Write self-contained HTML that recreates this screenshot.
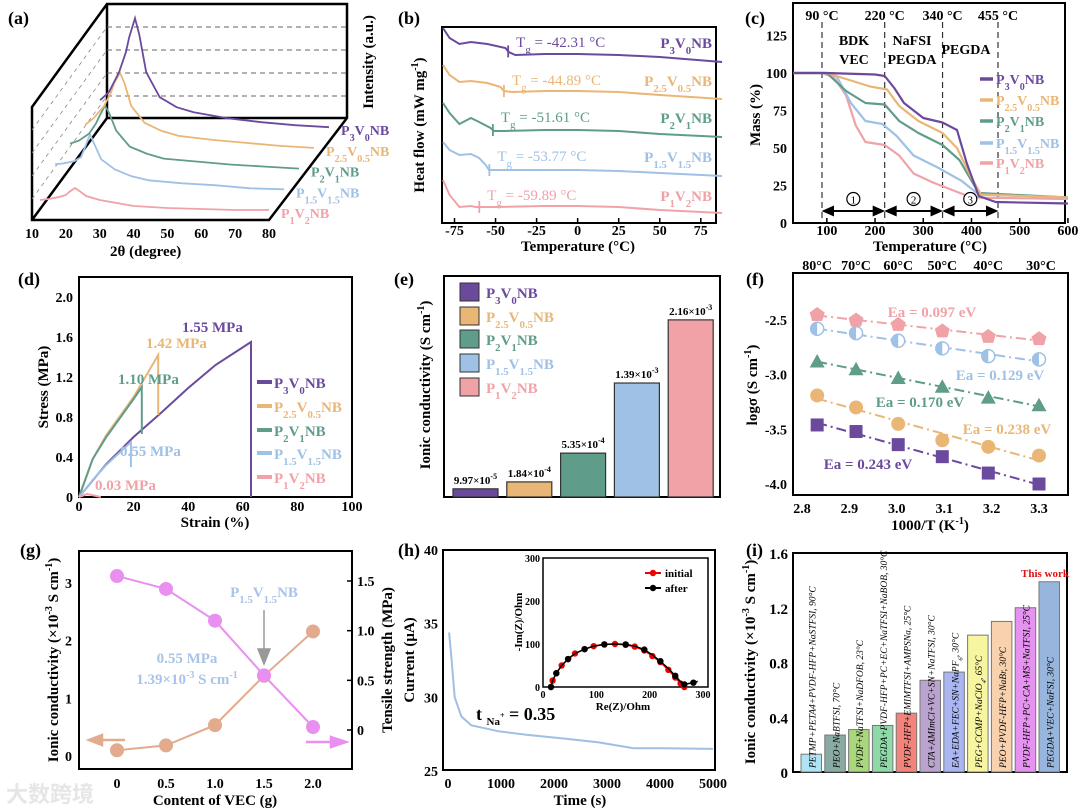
<!DOCTYPE html>
<html><head><meta charset="utf-8">
<style>
html,body{margin:0;padding:0;background:#fff;}
svg{display:block;font-family:"Liberation Serif",serif;font-weight:bold;}
.t{font-size:14px;}
.ax{fill:none;stroke:#000;stroke-width:2;}
</style></head>
<body>
<svg id="fig" width="1080" height="810" viewBox="0 0 1080 810" xmlns="http://www.w3.org/2000/svg">
<text x="8" y="24" font-size="18">(a)</text>
<text x="398" y="24" font-size="18">(b)</text>
<text x="745" y="24" font-size="18">(c)</text>
<text x="18" y="285" font-size="18">(d)</text>
<text x="394" y="285" font-size="18">(e)</text>
<text x="746" y="285" font-size="18">(f)</text>
<text x="20" y="556" font-size="18">(g)</text>
<text x="398" y="556" font-size="18">(h)</text>
<text x="746" y="556" font-size="18">(i)</text>

<text x="110" y="256" font-size="15">2θ (degree)</text>
<text transform="translate(373,62) rotate(-90)" text-anchor="middle" font-size="15">Intensity (a.u.)</text>
<text x="578" y="251" text-anchor="middle" font-size="15">Temperature (°C)</text>
<text transform="translate(424,125) rotate(-90)" text-anchor="middle" font-size="15">Heat flow (mW mg<tspan dy="-6" font-size="10">-1</tspan><tspan dy="6">)</tspan></text>
<text x="930" y="251" text-anchor="middle" font-size="15">Temperature (°C)</text>
<text transform="translate(760,115) rotate(-90)" text-anchor="middle" font-size="15">Mass (%)</text>
<text x="215" y="527" text-anchor="middle" font-size="15">Strain (%)</text>
<text transform="translate(48,387) rotate(-90)" text-anchor="middle" font-size="15">Stress (MPa)</text>
<text transform="translate(430,385) rotate(-90)" text-anchor="middle" font-size="15">Ionic conductivity (S cm<tspan dy="-6" font-size="10">-1</tspan><tspan dy="6">)</tspan></text>
<text x="930" y="530" text-anchor="middle" font-size="15">1000/T (K<tspan dy="-6" font-size="10">-1</tspan><tspan dy="6">)</tspan></text>
<text transform="translate(757,385) rotate(-90)" text-anchor="middle" font-size="15">logσ (S cm<tspan dy="-6" font-size="10">-1</tspan><tspan dy="6">)</tspan></text>
<text x="215" y="805" text-anchor="middle" font-size="15">Content of VEC (g)</text>
<text transform="translate(58,660) rotate(-90)" text-anchor="middle" font-size="15">Ionic conductivity (×10<tspan dy="-6" font-size="10">-3</tspan><tspan dy="6"> S cm</tspan><tspan dy="-6" font-size="10">-1</tspan><tspan dy="6">)</tspan></text>
<text transform="translate(392,660) rotate(-90)" text-anchor="middle" font-size="15">Tensile strength (MPa)</text>
<text x="580" y="805" text-anchor="middle" font-size="15">Time (s)</text>
<text transform="translate(414,660) rotate(-90)" text-anchor="middle" font-size="15">Current (μA)</text>
<text transform="translate(755,662) rotate(-90)" text-anchor="middle" font-size="15">Ionic conductivity (×10<tspan dy="-6" font-size="10">-3</tspan><tspan dy="6"> S cm</tspan><tspan dy="-6" font-size="10">-1</tspan><tspan dy="6">)</tspan></text>

<text x="6" y="802" font-size="22" fill="#e6e6e6" font-family="'Liberation Sans','Noto Sans CJK SC',sans-serif">大数跨境</text>
</svg>
<script>
const NS='http://www.w3.org/2000/svg';
const svg=document.getElementById('fig');
function mk(tag,attrs,parent){const e=document.createElementNS(NS,tag);for(const k in attrs)e.setAttribute(k,attrs[k]);(parent||svg).appendChild(e);return e;}
function lin(d0,d1,r0,r1){return v=>r0+(v-d0)*(r1-r0)/(d1-d0);}
function pathOf(xs,ys,fx,fy){return xs.map((x,i)=>(i?'L':'M')+fx(x).toFixed(1)+','+fy(ys[i]).toFixed(1)).join('');}
function sublabel(s){return s.replace(/_([0-9.]+)/g,'<tspan baseline-shift="sub" font-size="0.72em">$1</tspan>');}

const NAMES=['P_3V_0NB','P_2.5V_0.5NB','P_2V_1NB','P_1.5V_1.5NB','P_1V_2NB'];
const COLORS=['#6b4a9e','#eab676','#5f9c8a','#9fc1e6','#f1a2a7'];

/* ---------------- (a) XRD ---------------- */
const xrdTheta=[12.4,15,18,20,21,22.7,24,26,30,35,40,50,60,70,80];
const xrdP1V2=[10,11,13,15,18,22,19,14,10,7,4,2,1,0,0];
const xrdP15=[25,26,28,32,40,55,45,30,20,13,9,6,4,1,0];
const xrdP2V1=[25,28,35,45,52,63,55,38,22,15,10,7,4,2,0];
const xrdP25=[23,30,42,55,65,75,65,42,25,17,12,8,5,2,0];
const xrdP3=[27,35,55,75,90,109,92,55,30,20,15,9,5,2,0];
const xrdTicks=[10,20,30,40,50,60,70,80];
(function(){
  const g=mk('g',{});
  
  
  const fx=lin(10,80,32,269);
  const box=mk('path',{d:'M32,107 L107,4 L347,4 L347,118 L269,220 L32,220 Z M107,4 L107,118 L347,118 M32,220 L107,118',fill:'none',stroke:'#000','stroke-width':2.5},g);
  
  
  for(let i=1;i<=4;i++){const y=4+i*23;const l=mk('line',{x1:107,y1:y,x2:347,y2:y,stroke:'#666','stroke-dasharray':'5,4','stroke-width':1},g);
    
    
    const d=mk('line',{x1:32,y1:y+103,x2:107,y2:y,stroke:'#888','stroke-dasharray':'4,4','stroke-width':0.8},g);
    
    }
  xrdTicks.forEach(t=>{const tx=mk('text',{x:fx(t),y:238,'text-anchor':'middle',class:'t'},g);tx.textContent=t;
    
    });
  const series=[xrdP1V2,xrdP15,xrdP2V1,xrdP25,xrdP3];
  const order=[4,3,2,1,0];
  series.forEach((s,k)=>{
    const base=210-k*20.7, shift=15*k, ci=order[k];
    const p=mk('path',{d:pathOf(xrdTheta,s,t=>fx(t)+shift,v=>base-v),fill:'none',stroke:COLORS[ci],'stroke-width':1.8},g);
    
    
    const lb=mk('text',{x:fx(80)+shift+12,y:base+8,fill:COLORS[ci],'font-size':14},g);
    lb.innerHTML=sublabel(NAMES[ci]);
    
    
  });
})();

/* ---------------- (b) DSC ---------------- */
const dscTicks=[-75,-50,-25,0,25,50,75];
const dscT3=[-82,-78,-72,-65,-55,-44,-42,-38,-20,0,25,50,88];
const dscV3=[195,185,179,181,179,175,171,168,169,169,168,166,161];
const dscT25=[-82,-78,-72,-65,-55,-47,-45,-40,-20,0,25,50,88];
const dscV25=[158,148,141,142,140,136,132,131,132,132,131,128,124];
const dscT2=[-82,-78,-72,-65,-60,-53,-51,-45,-20,0,25,50,88];
const dscV2=[120,110,99,105,101,95,92,92,93,93,92,89,86];
const dscT15=[-82,-78,-72,-65,-60,-56,-54,-48,-20,0,25,50,88];
const dscV15=[81,73,68,69,65,58,53,53,53,53,52,50,47];
const dscT1=[-82,-78,-72,-65,-62,-60,-58,-50,-20,0,25,50,88];
const dscV1=[43,28,16,17,16,16,16,16,17,17,16,13,10];
const tgVals=[-42.31,-44.89,-51.61,-53.77,-59.89];
(function(){
  const g=mk('g',{});
  
  
  const fx=lin(-75,75,454.5,700.8), fy=v=>223-v;
  const fr=mk('rect',{x:442,y:27,width:274,height:196,class:'ax'},g);
  
  
  dscTicks.forEach(t=>{const l=mk('line',{x1:fx(t),y1:223,x2:fx(t),y2:218,stroke:'#000','stroke-width':1.5},g);
    
    
    const tx=mk('text',{x:fx(t),y:235,'text-anchor':'middle',class:'t'},g);tx.textContent=t;
    
    });
  const Ts=[dscT3,dscT25,dscT2,dscT15,dscT1], Vs=[dscV3,dscV25,dscV2,dscV15,dscV1];
  const tgY=[42,80,117,156,195];
  Ts.forEach((T,i)=>{
    const p=mk('path',{d:pathOf(T,Vs[i],fx,fy),fill:'none',stroke:COLORS[i],'stroke-width':2},g);
    
    
    const tg=tgVals[i];let v=Vs[i][0];
    for(let j=1;j<T.length;j++){if(T[j]>=tg){const f=(tg-T[j-1])/(T[j]-T[j-1]);v=Vs[i][j-1]+f*(Vs[i][j]-Vs[i][j-1]);break;}}
    const m=mk('line',{x1:fx(tg),y1:fy(v)-6,x2:fx(tg),y2:fy(v)+6,stroke:COLORS[i],'stroke-width':1.8},g);
    
    
    const tl=mk('text',{x:fx(tg)+8,y:tgY[i]+5,fill:COLORS[i],'font-size':15,'font-weight':'normal'},g);
    tl.innerHTML='T<tspan baseline-shift="sub" font-size="0.72em">g</tspan> = '+tg.toFixed(2)+' °C';
    
    
    const nl=mk('text',{x:712,y:tgY[i]+6,'text-anchor':'end',fill:COLORS[i],'font-size':15},g);
    nl.innerHTML=sublabel(NAMES[i]);
    
    
  });
})();

/* ---------------- (c) TGA ---------------- */
const tgaTicksX=[100,200,300,400,500,600];
const tgaTicksY=[0,25,50,75,100,125];
const tgaT3=[30,100,200,220,240,260,300,340,370,390,415,450,600];
const tgaM3=[100,100,99,98,90,80,70,67,62,40,18,14,13];
const tgaT25=[30,100,150,190,225,250,290,340,370,400,420,600];
const tgaM25=[100,100,95,91,89,78,68,60,50,30,19,17];
const tgaT2=[30,100,140,180,220,250,290,340,375,415,600];
const tgaM2=[100,100,88,80,79,68,60,52,42,20,17];
const tgaT15=[30,90,120,150,180,215,245,280,330,380,415,600];
const tgaM15=[100,100,98,80,68,66,58,45,37,28,19,17];
const tgaT1=[30,90,115,140,160,180,220,250,280,320,360,400,600];
const tgaM1=[100,100,97,85,65,54,52,45,33,27,22,17,16];
const tgaStages=[90,220,340,455];
(function(){
  const g=mk('g',{});
  
  
  const fx=lin(90,455,822,998), fy=lin(0,100,223,73);
  const fr=mk('rect',{x:793,y:3,width:272,height:220,class:'ax'},g);
  
  
  tgaTicksX.forEach(t=>{const tx=mk('text',{x:fx(t),y:235,'text-anchor':'middle',class:'t'},g);tx.textContent=t;
    
    
    const l=mk('line',{x1:fx(t),y1:223,x2:fx(t),y2:218,stroke:'#000','stroke-width':1.5},g);
    
    });
  tgaTicksY.forEach(t=>{const tx=mk('text',{x:787,y:fy(t)+5,'text-anchor':'end',class:'t'},g);tx.textContent=t;
    
    });
  tgaStages.forEach(t=>{const l=mk('line',{x1:fx(t),y1:22,x2:fx(t),y2:223,stroke:'#333','stroke-dasharray':'6,4','stroke-width':1.2},g);
    
    
    const tx=mk('text',{x:fx(t),y:20,'text-anchor':'middle','font-size':14},g);tx.textContent=t+' °C';
    
    });
  [['BDK',854,45],['VEC',854,64],['NaFSI',912,45],['PEGDA',912,64],['PEGDA',966,54]].forEach(a=>{
    const tx=mk('text',{x:a[1],y:a[2],'text-anchor':'middle','font-size':14},g);tx.textContent=a[0];
    
    });
  const Ts=[tgaT3,tgaT25,tgaT2,tgaT15,tgaT1], Ms=[tgaM3,tgaM25,tgaM2,tgaM15,tgaM1];
  for(let i=4;i>=0;i--){const p=mk('path',{d:pathOf(Ts[i],Ms[i],fx,fy),fill:'none',stroke:COLORS[i],'stroke-width':2.2,'stroke-linejoin':'round'},g);
    
    }
  for(let s=0;s<3;s++){
    const x1=fx(tgaStages[s])+2,x2=fx(tgaStages[s+1])-2,cx=(x1+x2)/2;
    const a=mk('path',{d:`M${x1+8},211 L${x2-8},211 M${x1},211 l9,-4 v8 z M${x2},211 l-9,-4 v8 z`,stroke:'#000','stroke-width':2,fill:'#000'},g);
    
    
    const c=mk('circle',{cx:cx,cy:199,r:6.5,fill:'#fff',stroke:'#000','stroke-width':1.2},g);
    
    
    const n=mk('text',{x:cx,y:203.5,'text-anchor':'middle','font-size':11,'font-weight':'normal'},g);n.textContent=s+1;
    
    }
  const ly=[79,100,121,143,163];
  NAMES.forEach((nm,i)=>{const l=mk('line',{x1:980,y1:ly[i],x2:993,y2:ly[i],stroke:COLORS[i],'stroke-width':3.5},g);
    
    
    const t=mk('text',{x:996,y:ly[i]+5,fill:COLORS[i],'font-size':14},g);t.innerHTML=sublabel(nm);
    
    });
})();

/* ---------------- (d) stress-strain ---------------- */
const ssTicksX=[0,20,40,60,80,100];
const ssTicksY=[0,0.4,0.8,1.2,1.6,2.0];
const ssX3=[0,10,20,30,40,50,63,63];
const ssY3=[0,0.33,0.6,0.84,1.09,1.32,1.55,0];
const ssX25=[0,5,10,20,29,29];
const ssY25=[0,0.38,0.62,1.0,1.42,0.82];
const ssX2=[0,5,10,20,23,23];
const ssY2=[0,0.38,0.6,0.98,1.10,0.63];
const ssX15=[0,5,10,19,19];
const ssY15=[0,0.17,0.32,0.55,0.3];
const ssX1=[0,3,8];
const ssY1=[0,0.03,0];
const ssPeaks=[1.55,1.42,1.10,0.55,0.03];
(function(){
  const g=mk('g',{});
  
  
  const fx=lin(0,100,79,352), fy=lin(0,2,497,297);
  const fr=mk('rect',{x:79,y:277,width:273,height:220,class:'ax'},g);
  
  
  ssTicksX.forEach(t=>{const tx=mk('text',{x:fx(t),y:511,'text-anchor':'middle',class:'t'},g);tx.textContent=t;
    
    });
  ssTicksY.forEach(t=>{const tx=mk('text',{x:73,y:fy(t)+5,'text-anchor':'end',class:'t'},g);tx.textContent=t===0?'0':t.toFixed(1);
    
    });
  const Xs=[ssX3,ssX25,ssX2,ssX15,ssX1], Ys=[ssY3,ssY25,ssY2,ssY15,ssY1];
  const lab=[[182,332],[146,348],[118,384],[120,456],[95,490]];
  Xs.forEach((X,i)=>{const p=mk('path',{d:pathOf(X,Ys[i],fx,fy),fill:'none',stroke:COLORS[i],'stroke-width':2},g);
    
    
    const t=mk('text',{x:lab[i][0],y:lab[i][1],fill:COLORS[i],'font-size':15},g);t.textContent=ssPeaks[i].toFixed(2)+' MPa';
    
    });
  const ly=[382,406,430,453,477];
  NAMES.forEach((nm,i)=>{const l=mk('line',{x1:257,y1:ly[i],x2:272,y2:ly[i],stroke:COLORS[i],'stroke-width':4},g);
    
    
    const t=mk('text',{x:274,y:ly[i]+6,fill:COLORS[i],'font-size':15},g);t.innerHTML=sublabel(nm);
    
    });
})();

/* ---------------- (e) conductivity bars ---------------- */
const condVals=[0.0997,0.184,0.535,1.39,2.16];
const condLabels=['9.97×10','1.84×10','5.35×10','1.39×10','2.16×10'];
const condExp=['-5','-4','-4','-3','-3'];
(function(){
  const g=mk('g',{});
  
  
  const fy=v=>497-v*82;
  const fr=mk('rect',{x:444,y:276,width:276,height:221,class:'ax'},g);
  
  
  condVals.forEach((v,i)=>{const x=453+i*53.8;
    const b=mk('rect',{x:x,y:fy(v),width:45,height:497-fy(v),fill:COLORS[i],stroke:'#333','stroke-width':1.2},g);
    
    
    const t=mk('text',{x:x+22.5,y:fy(v)-5,'text-anchor':'middle','font-size':11},g);
    t.innerHTML=condLabels[i]+'<tspan dy="-5" font-size="8">'+condExp[i]+'</tspan>';
    
    });
  const ly=[283,307,330,354,378];
  NAMES.forEach((nm,i)=>{const r=mk('rect',{x:460,y:ly[i],width:19,height:18,fill:COLORS[i],stroke:'#333','stroke-width':1},g);
    
    
    const t=mk('text',{x:486,y:ly[i]+15,fill:COLORS[i],'font-size':15},g);t.innerHTML=sublabel(nm);
    
    });
})();

/* ---------------- (f) Arrhenius ---------------- */
const arrX=[2.832,2.914,3.003,3.096,3.193,3.300];
const arrP1V2=[-2.45,-2.50,-2.54,-2.60,-2.65,-2.67];
const arrP15=[-2.58,-2.62,-2.69,-2.76,-2.83,-2.86];
const arrP2V1=[-2.88,-2.95,-3.03,-3.11,-3.21,-3.28];
const arrP25=[-3.19,-3.30,-3.45,-3.60,-3.66,-3.74];
const arrP3=[-3.46,-3.52,-3.64,-3.75,-3.90,-4.00];
const arrTicksX=[2.8,2.9,3.0,3.1,3.2,3.3];
const arrTicksY=[-2.5,-3.0,-3.5,-4.0];
const arrTopLabels=['80°C','70°C','60°C','50°C','40°C','30°C'];
const eaLabels=['0.243','0.238','0.170','0.129','0.097'];
(function(){
  const g=mk('g',{});
  
  
  const fx=lin(2.8,3.3,802,1039), fy=lin(-2.5,-4.0,320,484);
  const fr=mk('rect',{x:793,y:273,width:275,height:222,class:'ax'},g);
  
  
  arrTicksX.forEach(t=>{const tx=mk('text',{x:fx(t),y:513,'text-anchor':'middle',class:'t'},g);tx.textContent=t.toFixed(1);
    
    });
  arrTicksY.forEach(t=>{const tx=mk('text',{x:787,y:fy(t)+5,'text-anchor':'end',class:'t'},g);tx.textContent=t.toFixed(1);
    
    });
  arrX.forEach((x,i)=>{const tx=mk('text',{x:fx(x)+(i===5?2:0),y:270,'text-anchor':'middle',class:'t'},g);tx.textContent=arrTopLabels[i];
    
    });
  const S=[arrP3,arrP25,arrP2V1,arrP15,arrP1V2], C=[COLORS[0],COLORS[1],COLORS[2],COLORS[3],COLORS[4]];
  const shapes=['square','circle','triangle','half','pentagon'];
  const eaPos=[[868,469],[1007,434],[920,407],[1000,380],[932,317]];
  S.forEach((ys,i)=>{
    const n=arrX.length,mx=arrX.reduce((a,b)=>a+b)/n,my=ys.reduce((a,b)=>a+b)/n;
    let sxy=0,sxx=0;arrX.forEach((x,j)=>{sxy+=(x-mx)*(ys[j]-my);sxx+=(x-mx)*(x-mx);});
    const k=sxy/sxx,b=my-k*mx;
    const l=mk('line',{x1:fx(arrX[0]),y1:fy(k*arrX[0]+b),x2:fx(arrX[5]),y2:fy(k*arrX[5]+b),stroke:C[i],'stroke-width':2,'stroke-dasharray':'10,4,2,4'},g);
    
    
    arrX.forEach((x,j)=>{const cx=fx(x),cy=fy(ys[j]);let m;
      if(shapes[i]==='square')m=mk('rect',{x:cx-6.5,y:cy-6.5,width:13,height:13,fill:C[i]},g);
      else if(shapes[i]==='circle')m=mk('circle',{cx:cx,cy:cy,r:7,fill:C[i]},g);
      else if(shapes[i]==='triangle')m=mk('path',{d:`M${cx},${cy-7.5}L${cx+7.5},${cy+6}L${cx-7.5},${cy+6}Z`,fill:C[i]},g);
      else if(shapes[i]==='half')m=mk('circle',{cx:cx,cy:cy,r:6.5,fill:'#fff',stroke:C[i],'stroke-width':1.5},g);
      else m=mk('path',{d:`M${cx},${cy-7.5}L${cx+7.5},${cy-2}L${cx+5},${cy+6.5}L${cx-5},${cy+6.5}L${cx-7.5},${cy-2}Z`,fill:C[i]},g);
      if(shapes[i]==='half'){const h=mk('path',{d:`M${cx},${cy-6.5}A6.5,6.5 0 0 0 ${cx},${cy+6.5}Z`,fill:C[i]},g);
        
        }
      
      });
    const t=mk('text',{x:eaPos[i][0],y:eaPos[i][1],'text-anchor':'middle',fill:C[i],'font-size':15},g);t.textContent='Ea = '+eaLabels[i]+' eV';
    
    });
})();

/* ---------------- (g) dual axis ---------------- */
const vecX=[0,0.5,1.0,1.5,2.0];
const vecCond=[0.0997,0.184,0.535,1.39,2.16];
const vecTensile=[1.55,1.42,1.10,0.55,0.03];
const vecTicksX=['0','0.5','1.0','1.5','2.0'];
const vecTicksL=[0,1,2,3];
const vecTicksR=[0,0.5,1.0,1.5];
(function(){
  const g=mk('g',{});
  
  
  const fx=lin(0,2,117,313), fyL=lin(0,3,756,583), fyR=lin(0,1.5,730,581);
  const fr=mk('rect',{x:79,y:551,width:273,height:218,class:'ax'},g);
  
  
  vecX.forEach((x,i)=>{const tx=mk('text',{x:fx(x),y:788,'text-anchor':'middle',class:'t'},g);tx.textContent=vecTicksX[i];
    
    });
  vecTicksL.forEach(t=>{const tx=mk('text',{x:72,y:fyL(t)+5,'text-anchor':'end',class:'t'},g);tx.textContent=t;
    
    });
  vecTicksR.forEach(t=>{const tx=mk('text',{x:357,y:fyR(t)+5,class:'t'},g);tx.textContent=t===0?'0':t.toFixed(1);
    
    
    const l=mk('line',{x1:352,y1:fyR(t),x2:347,y2:fyR(t),stroke:'#000','stroke-width':1.5},g);
    
    });
  const c1='#e2ab8e',c2='#e98ff0';
  const p1=mk('path',{d:pathOf(vecX,vecCond,fx,fyL),fill:'none',stroke:c1,'stroke-width':2},g);
  
  
  const p2=mk('path',{d:pathOf(vecX,vecTensile,fx,fyR),fill:'none',stroke:c2,'stroke-width':2},g);
  
  
  vecX.forEach((x,i)=>{const a=mk('circle',{cx:fx(x),cy:fyL(vecCond[i]),r:7,fill:c1},g);
    
    
    const b=mk('circle',{cx:fx(x),cy:fyR(vecTensile[i]),r:7,fill:c2},g);
    
    });
  const ar=mk('path',{d:'M264,610 L264,650 M258,649 L264,664 L270,649 Z',stroke:'#999','stroke-width':1.5,fill:'#999'},g);
  
  
  const t1=mk('text',{x:264,y:597,'text-anchor':'middle',fill:'#a8c4e8','font-size':15},g);t1.innerHTML=sublabel('P_1.5V_1.5NB');
  
  
  const t2=mk('text',{x:187,y:663,'text-anchor':'middle',fill:'#a8c4e8','font-size':15},g);t2.textContent='0.55 MPa';
  
  
  const t3=mk('text',{x:187,y:684,'text-anchor':'middle',fill:'#a8c4e8','font-size':15},g);t3.innerHTML='1.39×10<tspan dy="-6" font-size="10">-3</tspan><tspan dy="6"> S cm</tspan><tspan dy="-6" font-size="10">-1</tspan>';
  
  
  const la=mk('path',{d:'M125,740 L100,740 M102,735 L89,740 L102,745 Z',stroke:c1,'stroke-width':2.5,fill:c1},g);
  
  
  const ra=mk('path',{d:'M306,742 L333,742 M331,737 L346,742 L331,747 Z',stroke:c2,'stroke-width':2.5,fill:c2},g);
  
  
})();

/* ---------------- (h) chronoamperometry ---------------- */
const caT=[20,63,126,252,440,700,943,1500,2200,2830,3500,4088,5000];
const caI=[34.4,32.8,30.0,28.7,28.1,27.9,27.7,27.45,27.2,26.95,26.55,26.55,26.5];
const caTicksX=[0,1000,2000,3000,4000,5000];
const caTicksY=[25,30,35,40];
const eisRe=[15,18,25,35,47,60,78,95,115,135,155,172,190,205,220,235,248,258,265];
const eisImInit=[0,15,32,50,65,78,88,95,99,100,98,94,85,72,58,40,22,8,0];
const eisReAfter=[15,18,25,35,47,60,78,95,115,135,155,172,190,205,220,235,248,258,265,272,282,290];
const eisImAfter=[0,15,32,50,65,78,88,95,99,100,99,95,87,75,60,43,26,12,6,8,10,13];
const eisTicks=[0,100,200,300];
(function(){
  const g=mk('g',{});
  
  
  const fx=lin(0,5000,448,713), fy=lin(25,40,771,550);
  const fr=mk('rect',{x:443,y:550,width:272,height:220,class:'ax'},g);
  
  
  caTicksX.forEach(t=>{const tx=mk('text',{x:fx(t),y:788,'text-anchor':'middle',class:'t'},g);tx.textContent=t;
    
    });
  caTicksY.forEach(t=>{const tx=mk('text',{x:438,y:fy(t)+5,'text-anchor':'end',class:'t'},g);tx.textContent=t;
    
    });
  const p=mk('path',{d:pathOf(caT,caI,fx,fy),fill:'none',stroke:'#9fbfe3','stroke-width':2},g);
  
  
  const tn=mk('text',{x:476,y:720,'font-size':18},g);tn.innerHTML='t <tspan font-size="11" dy="5">Na</tspan><tspan font-size="8" dy="-7">+</tspan><tspan dy="2"> = 0.35</tspan>';
  
  
  const ix=lin(0,300,543,703), iy=lin(0,300,687,558);
  const ifr=mk('rect',{x:543,y:558,width:165,height:129,fill:'#fff',stroke:'#000','stroke-width':1.5},g);
  
  
  eisTicks.forEach(t=>{const a=mk('text',{x:ix(t),y:698,'text-anchor':'middle','font-size':10},g);a.textContent=t;
    
    
    const b=mk('text',{x:540,y:iy(t)+4,'text-anchor':'end','font-size':10},g);b.textContent=t;
    
    });
  const xl=mk('text',{x:623,y:710,'text-anchor':'middle','font-size':11},g);xl.textContent='Re(Z)/Ohm';
  
  
  const yl=mk('text',{transform:'translate(522,622) rotate(-90)','text-anchor':'middle','font-size':11},g);yl.textContent='-Im(Z)/Ohm';
  
  
  const pi=mk('path',{d:pathOf(eisRe,eisImInit,ix,iy),fill:'none',stroke:'#e00','stroke-width':1.5},g);
  
  
  eisRe.forEach((x,i)=>{const c=mk('circle',{cx:ix(x),cy:iy(eisImInit[i]),r:3.2,fill:'#e00'},g);
    
    });
  const pa=mk('path',{d:pathOf(eisReAfter,eisImAfter,ix,iy),fill:'none',stroke:'#000','stroke-width':1.5},g);
  
  
  eisReAfter.forEach((x,i)=>{if(i%2)return;const c=mk('circle',{cx:ix(x),cy:iy(eisImAfter[i]),r:3.2,fill:'#000'},g);
    
    });
  [['initial','#e00',573],['after','#000',588]].forEach(a=>{
    const l=mk('line',{x1:645,y1:a[2],x2:661,y2:a[2],stroke:a[1],'stroke-width':2},g);
    
    
    const c=mk('circle',{cx:653,cy:a[2],r:3.2,fill:a[1]},g);
    
    
    const t=mk('text',{x:665,y:a[2]+4,'font-size':11},g);t.textContent=a[0];
    
    });
})();

/* ---------------- (i) comparison bars ---------------- */
const cmpVals=[0.13,0.27,0.31,0.34,0.43,0.67,0.73,1.00,1.10,1.20,1.39];
const cmpLabels=['PETMP+PETA4+PVDF-HFP+NaSTFSI, 90°C','PEO+NaBTFSI, 70°C','PVDF+NaTFSI+NaDFOB, 23°C','PEGDA+PVDF-HFP+PC+EC+NaTFSI+NaBOB, 30°C','PVDF-HFP+EMIMTFSI+AMPSNa, 25°C','CTA+AMImCl+VC+SN+NaTFSI, 30°C','EA+EDA+FEC+SN+NaPF<tspan baseline-shift="sub" font-size="0.7em">6</tspan>, 30°C','PEG+CCMP+NaClO<tspan baseline-shift="sub" font-size="0.7em">4</tspan>, 65°C','PEO+PVDF-HFP+NaBr, 30°C','PVDF-HFP+PC+CA+MS+NaTFSI, 25°C','PEGDA+VEC+NaFSI, 30°C'];
const cmpTicks=[0,0.4,0.8,1.2,1.6];
const CMPCOL=['#aee4f4','#8aaaa4','#aad77c','#8fd9a9','#f3847c','#bba3cf','#aab6f1','#f7f59f','#f8d2ae','#e592f0','#98b6dd'];
(function(){
  const g=mk('g',{});
  
  
  const fy=lin(0,1.6,772,553);
  const fr=mk('rect',{x:793,y:553,width:274,height:219,class:'ax'},g);
  
  
  cmpTicks.forEach(t=>{const tx=mk('text',{x:788,y:fy(t)+6,'text-anchor':'end','font-size':15},g);tx.textContent=t===0?'0':t.toFixed(1);
    
    });
  cmpVals.forEach((v,i)=>{const x=801+i*23.8;
    const b=mk('rect',{x:x,y:fy(v),width:20.5,height:772-fy(v),fill:CMPCOL[i],stroke:'#777','stroke-width':1},g);
    
    
    const t=mk('text',{transform:`translate(${x+14.5},768) rotate(-90)`,'font-size':9.5,'font-style':'italic','font-weight':'normal'},g);
    t.innerHTML=cmpLabels[i];
    
    });
  const tw=mk('text',{x:1045,y:577,'text-anchor':'middle',fill:'#e01010','font-size':11},g);tw.textContent='This work';
  
  
})();
</script>
</body></html>
